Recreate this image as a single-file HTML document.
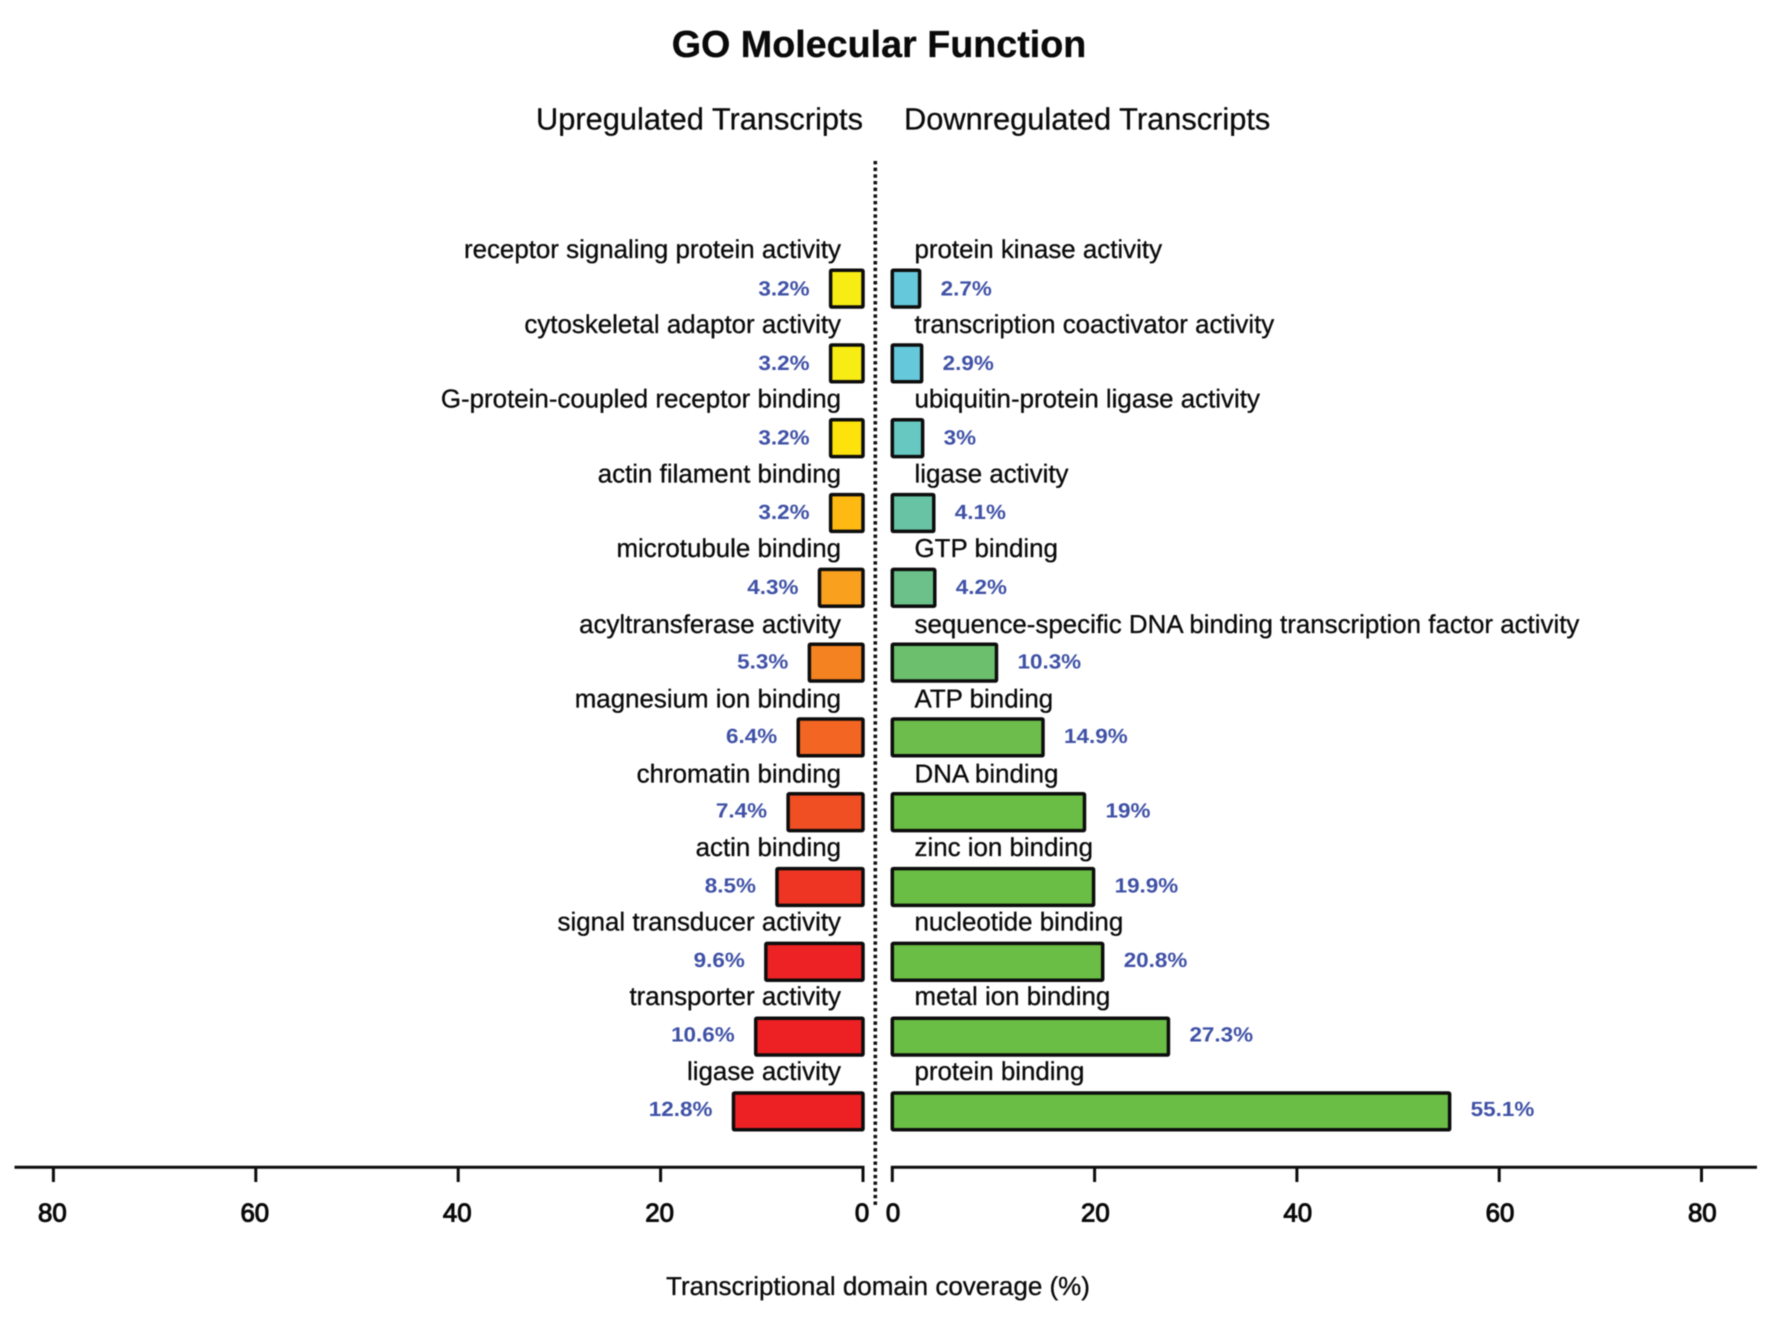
<!DOCTYPE html>
<html lang="en">
<head>
<meta charset="utf-8">
<title>GO Molecular Function</title>
<style>
  html, body { margin: 0; padding: 0; background: #fff; }
  body { width: 1772px; height: 1325px; overflow: hidden; }
  svg { display: block; filter: blur(0.5px); }
  text { font-family: "Liberation Sans", sans-serif; fill: #0a0a0a; text-rendering: geometricPrecision; }
  .title { font-size: 37.7px; font-weight: bold; stroke: #0a0a0a; stroke-width: 0.3px; }
  .subtitle { font-size: 30.8px; stroke: #0a0a0a; stroke-width: 0.25px; }
  .cat { font-size: 25.9px; stroke: #0a0a0a; stroke-width: 0.3px; }
  .val { font-size: 20.6px; font-weight: bold; fill: #3f51a6; }
  .tick { font-size: 25.8px; stroke: #0a0a0a; stroke-width: 1px; }
  .axis-title { font-size: 26px; stroke: #0a0a0a; stroke-width: 0.3px; }
</style>
</head>
<body>
<svg id="chart" width="1772" height="1325" viewBox="0 0 1772 1325" xmlns="http://www.w3.org/2000/svg">
  <rect x="0" y="0" width="1772" height="1325" fill="#ffffff"/>
  <text class="title" x="879" y="57" text-anchor="middle">GO Molecular Function</text>
  <text class="subtitle" x="863" y="129.6" text-anchor="end">Upregulated Transcripts</text>
  <text class="subtitle" x="904" y="129.6">Downregulated Transcripts</text>
  <line x1="875.3" y1="161" x2="875.3" y2="1206" stroke="#111" stroke-width="3.6" stroke-dasharray="3.4 3.27"/>
  <g id="bars"></g>
  <g id="axes"></g>
  <text class="axis-title" x="878" y="1295" text-anchor="middle">Transcriptional domain coverage (%)</text>
</svg>
<script>
const upCategories = ["receptor signaling protein activity", "cytoskeletal adaptor activity", "G-protein-coupled receptor binding", "actin filament binding", "microtubule binding", "acyltransferase activity", "magnesium ion binding", "chromatin binding", "actin binding", "signal transducer activity", "transporter activity", "ligase activity"];
const upValues = [3.2, 3.2, 3.2, 3.2, 4.3, 5.3, 6.4, 7.4, 8.5, 9.6, 10.6, 12.8];
const downCategories = ["protein kinase activity", "transcription coactivator activity", "ubiquitin-protein ligase activity", "ligase activity", "GTP binding", "sequence-specific DNA binding transcription factor activity", "ATP binding", "DNA binding", "zinc ion binding", "nucleotide binding", "metal ion binding", "protein binding"];
const downValues = [2.7, 2.9, 3, 4.1, 4.2, 10.3, 14.9, 19, 19.9, 20.8, 27.3, 55.1];
const tickLabels = [0, 20, 40, 60, 80];

const upPalette = ["#f8ec15", "#f8ec15", "#fde20c", "#feb912", "#f9a01f", "#f58220", "#f26522", "#f04e23", "#ee3524", "#ed2224", "#ed2024", "#ed2024"];
const downPalette = ["#66c8db", "#66c8db", "#66c8c0", "#68c3a5", "#6cc18a", "#6cbf6c", "#6dbd4c", "#6abd45", "#6abd45", "#6abd45", "#6abd45", "#6abd45"];

const NS = "http://www.w3.org/2000/svg";
const barsLayer = document.getElementById("bars");
const axesLayer = document.getElementById("axes");

const xUp = v => 863 - v * 10.12;
const xDown = v => 892.3 + v * 10.115;
const barCenter = i => 288.6 + i * 74.8;
const labelBase = i => 258.2 + i * 74.7 + (i >= 5 && i <= 7 ? 1.2 : 0);
const valueBase = i => 295 + i * 74.62;
const BAR_H = 36.8;
const AXIS_Y = 1167.3;

function make(tag, attrs, text) {
  const el = document.createElementNS(NS, tag);
  for (const k in attrs) el.setAttribute(k, attrs[k]);
  if (text !== undefined) el.textContent = text;
  return el;
}

function drawSide(categories, values, palette, scale, side) {
  const isUp = side === "up";
  values.forEach((v, i) => {
    const x0 = scale(0), x1 = scale(v);
    const bar = make("rect", {
      x: Math.min(x0, x1),
      y: barCenter(i) - BAR_H / 2,
      width: Math.abs(x1 - x0),
      height: BAR_H,
      rx: 1,
      fill: palette[i],
      stroke: "#0d0d0d",
      "stroke-width": 3.5
    });
    
    
    barsLayer.appendChild(bar);

    const cat = make("text", {
      class: "cat",
      x: isUp ? 841 : 914.5,
      y: labelBase(i),
      "text-anchor": isUp ? "end" : "start"
    }, categories[i]);
    
    
    barsLayer.appendChild(cat);

    const vx = isUp ? x1 - 21 : x1 + 21;
    const val = make("text", {
      class: "val",
      transform: "translate(" + vx + "," + (valueBase(i) + 0.3) + ") scale(1.09,1)",
      "text-anchor": isUp ? "end" : "start"
    }, v + "%");
    
    
    barsLayer.appendChild(val);
  });
}

function drawAxis(scale, side, lineStart, lineEnd, labelShift) {
  const line = make("line", {
    x1: lineStart, y1: AXIS_Y, x2: lineEnd, y2: AXIS_Y,
    stroke: "#0d0d0d", "stroke-width": 3
  });
  
  
  axesLayer.appendChild(line);

  tickLabels.forEach(t => {
    const x = scale(t);
    const tick = make("line", {
      x1: x, y1: AXIS_Y, x2: x, y2: 1182,
      stroke: "#0d0d0d", "stroke-width": 3
    });
    
    
    axesLayer.appendChild(tick);

    const label = make("text", {
      class: "tick", x: x + labelShift, y: 1221.7, "text-anchor": "middle"
    }, t);
    
    
    axesLayer.appendChild(label);
  });
}

drawSide(upCategories, upValues, upPalette, xUp, "up");
drawSide(downCategories, downValues, downPalette, xDown, "down");
drawAxis(xUp, "up", 14.5, 864.5, -1);
drawAxis(xDown, "down", 890.8, 1757, 0.8);
</script>
</body>
</html>
